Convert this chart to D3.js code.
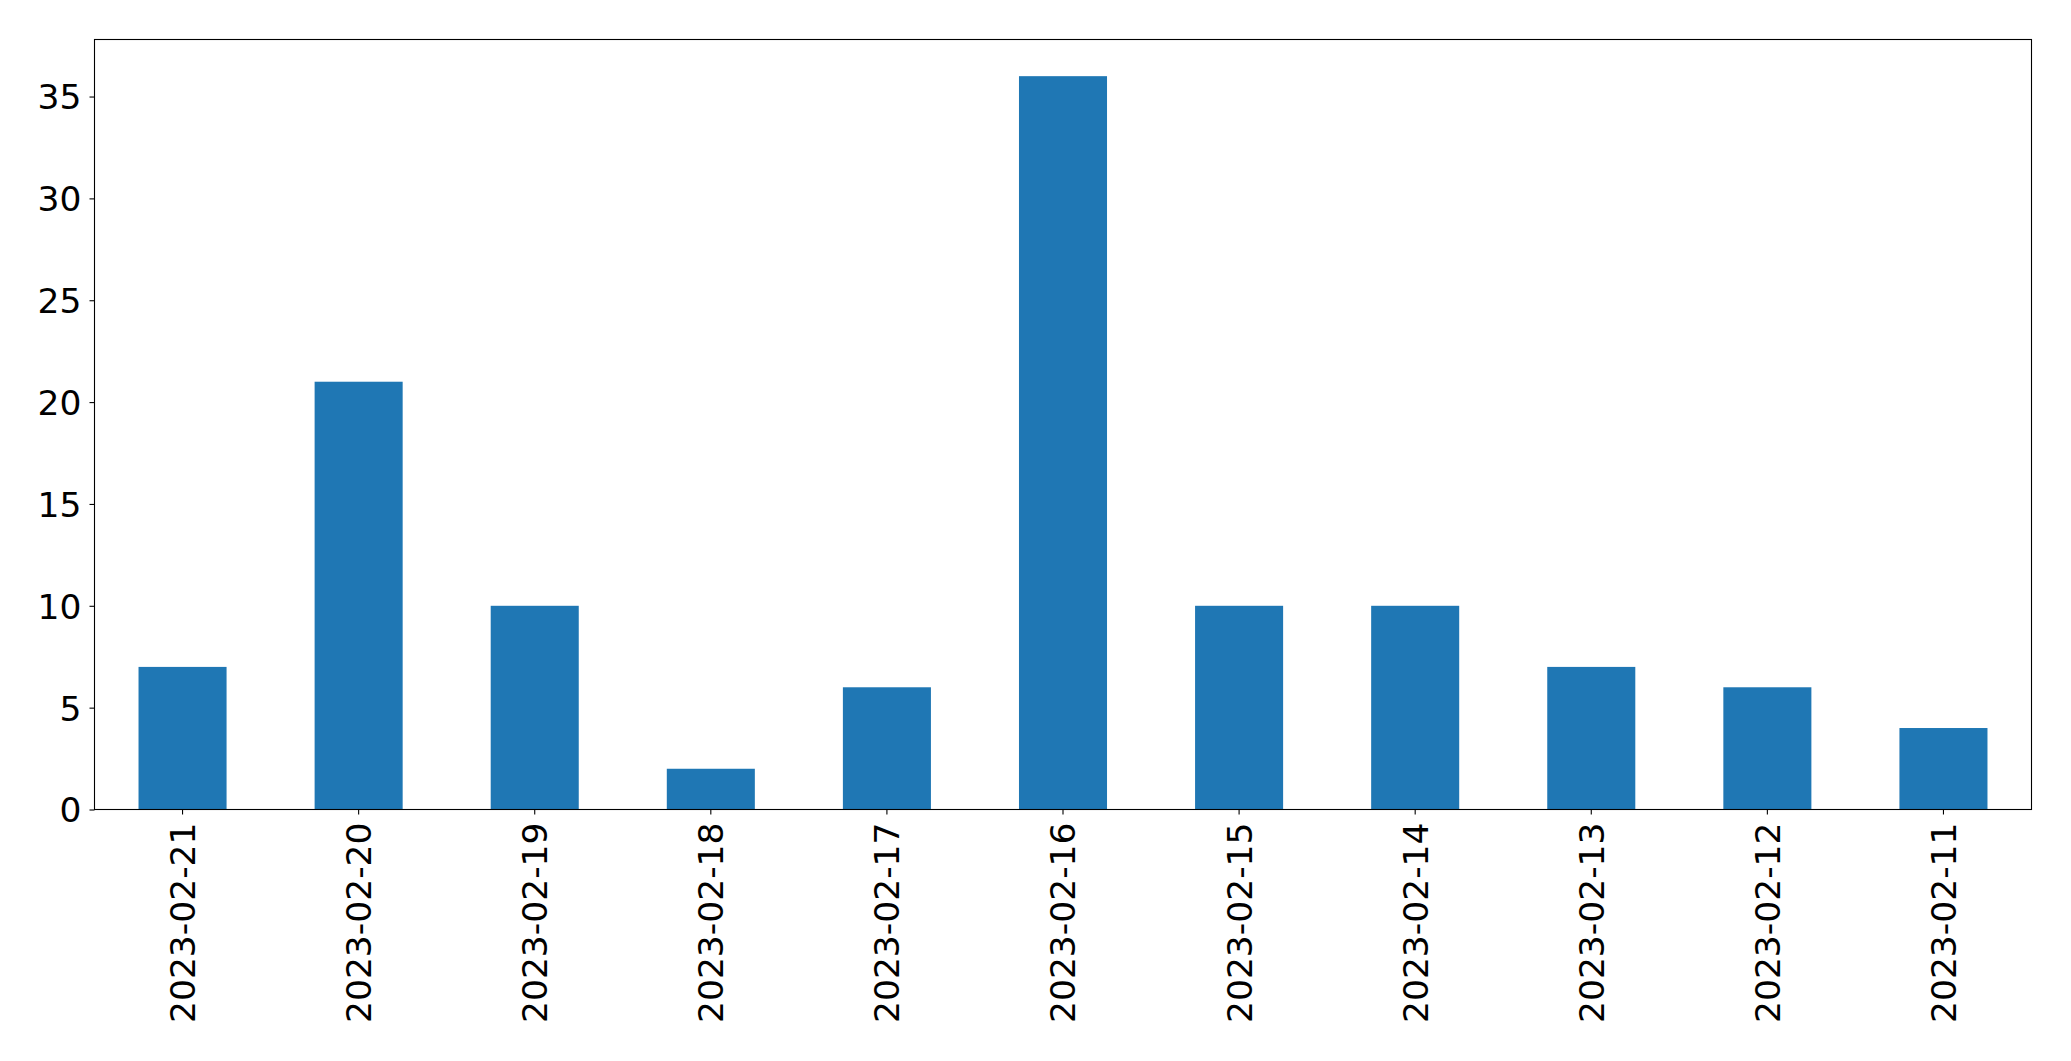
<!DOCTYPE html>
<html>
<head>
<meta charset="utf-8">
<script src="https://cdn.jsdelivr.net/npm/d3@7"></script>
<style>
  body { margin: 0; background: #fff; }
  text { font-family: "DejaVu Sans", sans-serif; fill: #000; }
</style>
</head>
<body>
<div id="chart"></div>
<script>
// dates on the x axis, in the order shown
var dates = ["2023-02-21","2023-02-20","2023-02-19","2023-02-18","2023-02-17",
             "2023-02-16","2023-02-15","2023-02-14","2023-02-13","2023-02-12","2023-02-11"];
// bar heights
var counts = [7, 21, 10, 2, 6, 36, 10, 10, 7, 6, 4];
// y tick values
var yTicks = [0, 5, 10, 15, 20, 25, 30, 35];

var W = 2071, H = 1061;
var margin = {top: 39.5, right: 39.5, bottom: 251.5, left: 94.5};
var width = W - margin.left - margin.right,
    height = H - margin.top - margin.bottom;

var svg = d3.select("#chart").append("svg")
    .attr("width", W)
    .attr("height", H);

var g = svg.append("g")
    .attr("transform", "translate(" + margin.left + "," + margin.top + ")");

var x = d3.scaleBand()
    .domain(dates)
    .range([0, width])
    .paddingInner(0.5)
    .paddingOuter(0.25);

var y = d3.scaleLinear()
    .domain([0, d3.max(counts) * 1.05])
    .range([height, 0]);

var data = dates.map(function(d, i){ return {date: d, value: counts[i]}; });

g.selectAll(".bar")
    .data(data)
    .enter().append("rect")
    .attr("class", "bar")
    .attr("x", function(d){ return x(d.date); })
    .attr("width", x.bandwidth())
    .attr("y", function(d){ return y(d.value); })
    .attr("height", function(d){ return height - y(d.value); })
    .style("fill", "#1f77b4");

// y axis
var yAxis = d3.axisLeft(y).tickValues(yTicks).tickSize(5).tickPadding(8);
var ya = g.append("g").call(yAxis);
ya.select(".domain").remove();
ya.selectAll(".tick line").attr("stroke", "#000").attr("stroke-width", 1.1);
ya.selectAll(".tick text")
    .style("font-size", "34.5px")
    .attr("dy", "0.36em");

// x axis
var xAxis = d3.axisBottom(x).tickSize(5).tickPadding(0);
var xa = g.append("g")
    .attr("transform", "translate(0," + height + ")")
    .call(xAxis);
xa.select(".domain").remove();
xa.selectAll(".tick line").attr("stroke", "#000").attr("stroke-width", 1.1);
xa.selectAll(".tick text")
    .style("font-size", "34.5px")
    .attr("text-anchor", "end")
    .attr("x", 0)
    .attr("y", 0)
    .attr("dy", "0.36em")
    .attr("transform", "translate(0,13) rotate(-90)");

// frame
g.append("rect")
    .attr("x", 0).attr("y", 0)
    .attr("width", width).attr("height", height)
    .attr("fill", "none")
    .attr("stroke", "#000")
    .attr("stroke-width", 1.1);
</script>
</body>
</html>
